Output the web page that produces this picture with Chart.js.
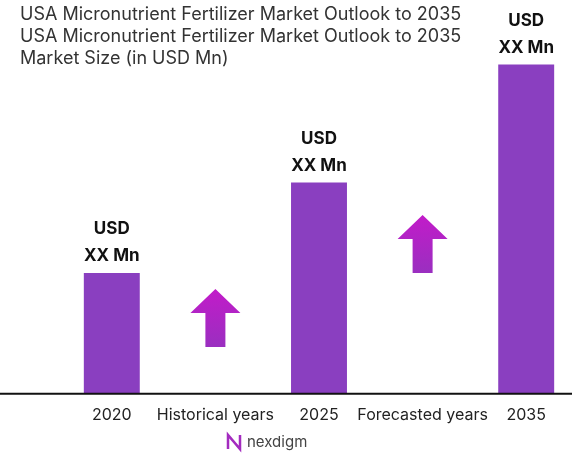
<!DOCTYPE html>
<html><head><meta charset="utf-8">
<script src="https://cdn.jsdelivr.net/npm/chart.js@4"></script>
<style>html,body{margin:0;padding:0;background:#fff}#w{width:588px;height:456px}</style>
</head><body><div id="w"><canvas id="c"></canvas></div>
<script>
const categories = ["2020", "Historical years", "2025", "Forecasted years", "2035"];
const barValues = [36.7, null, 64.2, null, 100];
const barLabels = ["USD\nXX Mn", "", "USD\nXX Mn", "", "USD\nXX Mn"];
const arrowValues = [null, 23, null, 45.5, null];
const titleLines = ["USA Micronutrient Fertilizer Market Outlook to 2035", "USA Micronutrient Fertilizer Market Outlook to 2035", "Market Size (in USD Mn)"];

const deco = {
  id: 'deco',
  afterDatasetsDraw(chart) {
    const ctx = chart.ctx;
    const y = chart.scales.y;
    ctx.save();
    ctx.fillStyle = '#333'; ctx.font = '18px Inter, "Open Sans", sans-serif'; ctx.textBaseline = 'middle'; ctx.textAlign = 'left';
    titleLines.forEach((t, i) => ctx.fillText(t, 20, 15 + i * 22));
    const by = y.getPixelForValue(0);
    ctx.strokeStyle = '#111'; ctx.lineWidth = 2;
    ctx.beginPath(); ctx.moveTo(0, by); ctx.lineTo(572, by); ctx.stroke();
    const bm = chart.getDatasetMeta(0);
    ctx.fillStyle = '#111'; ctx.font = 'bold 17px Inter, "Open Sans", sans-serif'; ctx.textAlign = 'center';
    bm.data.forEach((el, i) => {
      if (barValues[i] == null) return;
      const ls = barLabels[i].split('\n');
      ctx.fillText(ls[0], el.x, el.y - 44);
      ctx.fillText(ls[1], el.x, el.y - 17);
    });
    const am = chart.getDatasetMeta(1);
    am.data.forEach((el, i) => {
      if (arrowValues[i] == null) return;
      const cx = el.x, cy = el.y;
      const g = ctx.createLinearGradient(cx, cy - 29, cx, cy + 29);
      g.addColorStop(0, '#c21bc9'); g.addColorStop(1, '#9a2fc0');
      ctx.fillStyle = g;
      ctx.beginPath();
      ctx.moveTo(cx, cy - 29);
      ctx.lineTo(cx + 25, cy - 5);
      ctx.lineTo(cx + 10, cy - 5);
      ctx.lineTo(cx + 10, cy + 29);
      ctx.lineTo(cx - 10, cy + 29);
      ctx.lineTo(cx - 10, cy - 5);
      ctx.lineTo(cx - 25, cy - 5);
      ctx.closePath(); ctx.fill();
    });
    ctx.strokeStyle = '#a32bbf'; ctx.lineWidth = 2.5;
    ctx.beginPath(); ctx.moveTo(228, 449); ctx.lineTo(228, 435); ctx.lineTo(240, 449); ctx.lineTo(240, 435); ctx.stroke();
    ctx.fillStyle = '#444'; ctx.font = '15px Inter, "Open Sans", sans-serif'; ctx.textAlign = 'left';
    ctx.fillText('nexdigm', 247, 442);
    ctx.restore();
  }
};

new Chart(document.getElementById('c'), {
  type: 'bar',
  data: {
    labels: categories,
    datasets: [
      { data: barValues, backgroundColor: '#8a3fc0', barPercentage: 0.54, categoryPercentage: 1, grouped: false },
      { type: 'scatter', data: arrowValues, pointRadius: 0, showLine: false }
    ]
  },
  options: {
    responsive: true, maintainAspectRatio: false, animation: false,
    layout: { padding: { left: 60, right: 10, top: 53, bottom: 27 } },
    plugins: { legend: { display: false }, tooltip: { enabled: false } },
    scales: {
      x: { grid: { display: false }, border: { display: false },
           ticks: { color: '#222', font: { size: 16, family: 'Inter, "Open Sans", sans-serif' }, padding: 4, maxRotation: 0, autoSkip: false } },
      y: { display: false, min: 0, max: 103.5 }
    }
  },
  plugins: [deco]
});
</script></body></html>
